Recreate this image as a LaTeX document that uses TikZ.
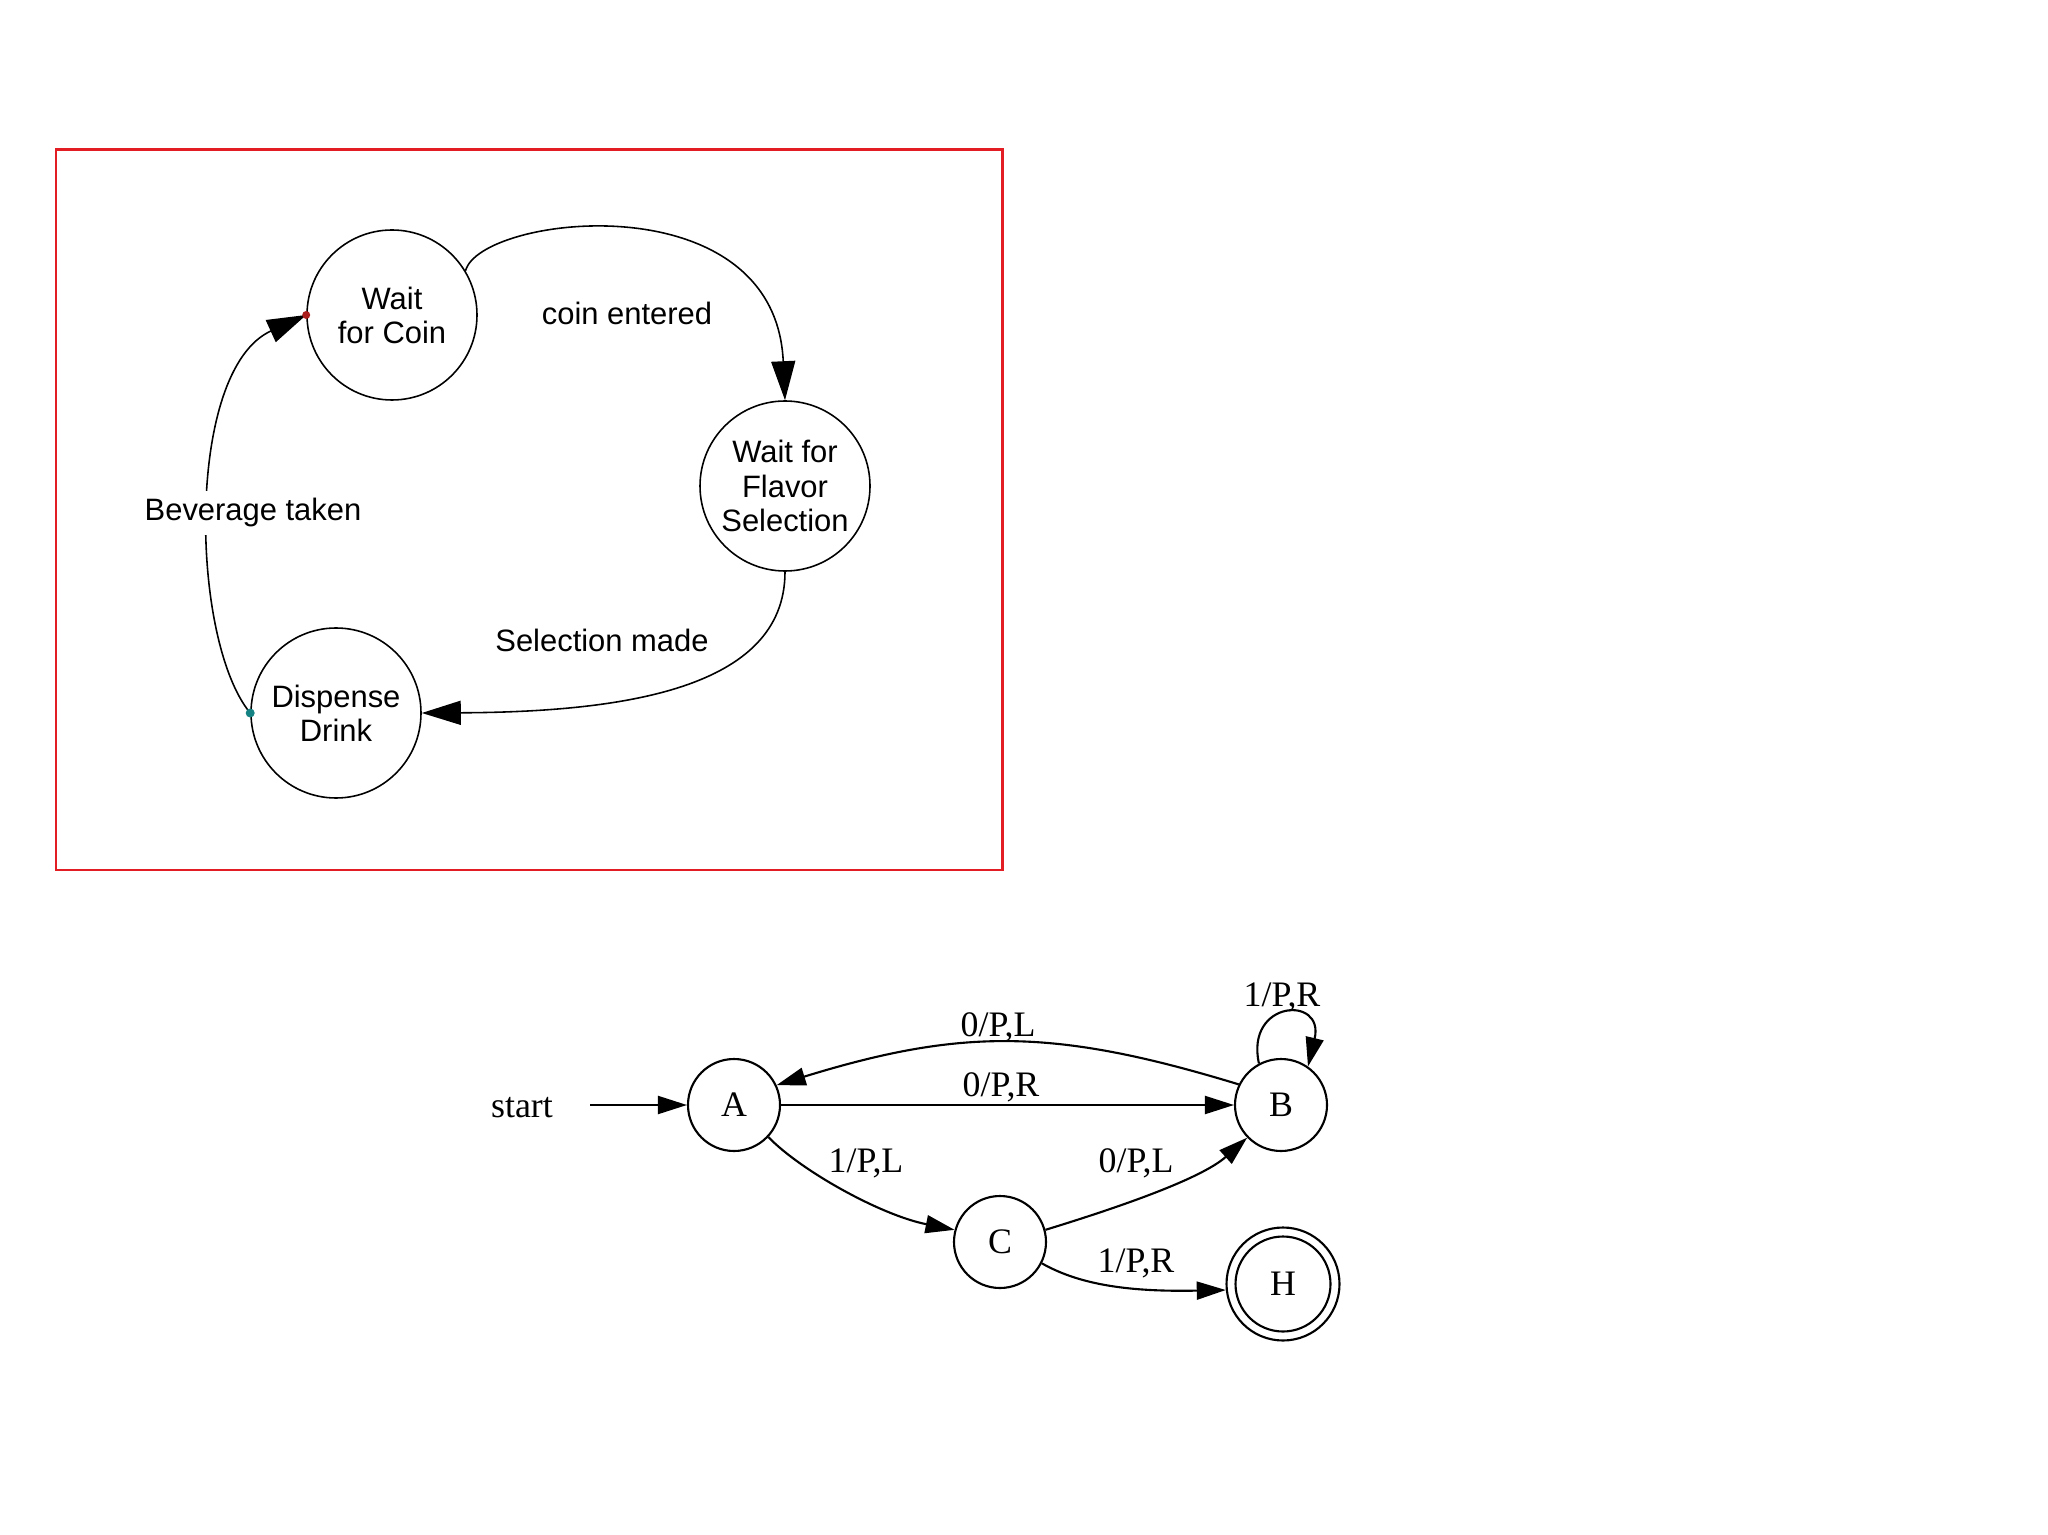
\documentclass[tikz,border=0pt]{standalone}
\usepackage{fontspec}
\setmainfont{Liberation Serif}
\newfontfamily\arialf{Liberation Sans}
\usetikzlibrary{arrows.meta}
\definecolor{boxred}{RGB}{226,30,36}
\definecolor{dotred}{RGB}{170,30,30}
\definecolor{dotteal}{RGB}{20,130,130}
\begin{document}
\begin{tikzpicture}[x=0.1mm,y=-0.1mm,
  topstate/.style={circle,draw,line width=0.45pt,minimum size=17mm,inner sep=0pt,align=center,font=\arialf\fontsize{8.8}{9.7}\selectfont},
  toplabel/.style={font=\arialf\fontsize{8.8}{9.7}\selectfont,inner sep=0.8mm,fill=white},
  toparrow/.style={line width=0.45pt,-{Triangle[length=3.9mm,width=2.4mm]}},
  fsm/.style={circle,draw,line width=0.6pt,minimum size=9.2mm,inner sep=0pt,font=\fontsize{10.2}{12}\selectfont},
  fsmlabel/.style={font=\fontsize{10.2}{12}\selectfont,inner sep=0pt},
  fsmarrow/.style={line width=0.6pt,-{Triangle[length=2.9mm,width=1.8mm]}}
]
\useasboundingbox (0,0) rectangle (2048,1535);
\fill[white] (0,0) rectangle (2048,1535);
\draw[boxred,line width=0.85pt] (56,150) rectangle (1002,870);

% top diagram
\node[topstate] (coin) at (392,315) {Wait\\for Coin};
\node[topstate] (flavor) at (785,486) {Wait for\\Flavor\\Selection};
\node[topstate] (disp) at (336,713) {Dispense\\Drink};

\draw[toparrow] (coin.31) .. controls (480,215) and (775,180) .. (flavor.north);
\draw[toparrow] (flavor.south) .. controls (785,690) and (620,712) .. (disp.east);
\draw[toparrow] (disp.west) .. controls (190,640) and (185,370) .. (coin.west);
\fill[dotred] (coin.west) circle (0.4mm);
\fill[dotteal] (disp.west) circle (0.45mm);

\node[toplabel] (lcoin) at (627,313) {coin entered};
\node[toplabel] (lbev) at (253,513) {Beverage taken};
\node[toplabel] (lsel) at (602,640) {Selection made};

% bottom diagram
\node[fsm] (A) at (734,1105) {A};
\node[fsm] (B) at (1281,1105) {B};
\node[fsm] (C) at (1000,1242) {C};
\node[fsm,minimum size=11.3mm] (H) at (1283,1284) {H};
\node[circle,draw,line width=0.6pt,minimum size=9.5mm,inner sep=0pt] (Hi) at (H) {};
\coordinate (s) at (590,1105);
\node[fsmlabel] (start) at (522,1108) {start};

\draw[fsmarrow] (s) -- (A.west);
\draw[fsmarrow] (A.east) -- (B.west);
\draw[fsmarrow] (B.154) .. controls (1054,1028) and (962,1028) .. (A.25);
\draw[fsmarrow] (A.-43) .. controls (800,1170) and (880,1215) .. (C.165);
\draw[fsmarrow] (C.15) .. controls (1110,1210) and (1200,1180) .. (B.224);
\draw[fsmarrow] (C.-27) .. controls (1080,1285) and (1130,1292) .. (H.186);
\draw[fsmarrow] (B.118) .. controls (1245,1000) and (1325,995) .. (B.55);

\node[fsmlabel] (l1) at (998,1027) {0/P,L};
\node[fsmlabel] (l2) at (1001,1087) {0/P,R};
\node[fsmlabel] (l3) at (1282,997) {1/P,R};
\node[fsmlabel] (l4) at (866,1163) {1/P,L};
\node[fsmlabel] (l5) at (1136,1163) {0/P,L};
\node[fsmlabel] (l6) at (1136,1263) {1/P,R};
\end{tikzpicture}
\end{document}
